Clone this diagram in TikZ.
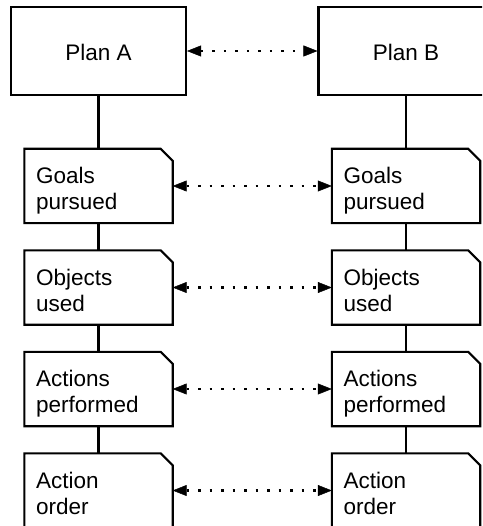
\documentclass[tikz,border=0pt]{standalone}
\usepackage{fontspec}
\setmainfont{Liberation Sans}
\usetikzlibrary{arrows.meta}
\begin{document}
\begin{tikzpicture}[x=1pt,y=-1pt,
  plan/.style={draw, line width=2.1pt, minimum width=175pt, minimum height=88pt,
    inner sep=0pt, font=\fontsize{22.5}{26}\selectfont, text height=20pt, text depth=0pt},
  slot/.style={minimum width=148pt, minimum height=74pt, inner sep=0pt},
  outline/.style={line width=2.1pt, line join=miter},
  caption/.style={anchor=north west, inner sep=0pt, align=left,
    font=\fontsize{22.5}{26}\selectfont},
  link/.style={line width=2.1pt},
  pair/.style={line width=2.5pt, dash pattern=on 2.5pt off 9pt,
    {Triangle[length=14pt,width=11pt,line width=0.5pt]}-{Triangle[length=14pt,width=11pt,line width=0.5pt]}}
]
\useasboundingbox (0,0) rectangle (482,526);
\clip (0,0) rectangle (482,526);

% the two plans
\node[plan] (pa) at (98.5,51) {Plan A};
\node[plan] (pb) at (406,51) {Plan B};

% aspect slots of each plan
\foreach \i/\y in {1/186,2/287.5,3/389,4/490.5} {
  \node[slot] (la\i) at (98.5,\y) {};
  \node[slot] (ra\i) at (406,\y) {};
}
\foreach \n in {la1,la2,la3,la4,ra1,ra2,ra3,ra4} {
  \draw[outline] (\n.south west) -- (\n.north west) -- ([xshift=-12pt]\n.north east)
    -- ([yshift=-12pt]\n.north east) -- (\n.south east) -- cycle;
}

% slot texts
\foreach \s in {l,r} {
  \node[caption] (\s t1) at ([xshift=11.5pt,yshift=-17.5pt]\s a1.north west) {\rule{0pt}{17pt}Goals\\pursued};
  \node[caption] (\s t2) at ([xshift=11.5pt,yshift=-17.5pt]\s a2.north west) {\rule{0pt}{17pt}Objects\\used};
  \node[caption] (\s t3) at ([xshift=11.5pt,yshift=-17.5pt]\s a3.north west) {\rule{0pt}{17pt}Actions\\performed};
  \node[caption] (\s t4) at ([xshift=11.5pt,yshift=-17.5pt]\s a4.north west) {\rule{0pt}{17pt}Action\\order};
}

% vertical chains
\draw[link] (pa) -- (la1) (la1) -- (la2) (la2) -- (la3) (la3) -- (la4);
\draw[link] (pb) -- (ra1) (ra1) -- (ra2) (ra2) -- (ra3) (ra3) -- (ra4);

% correspondences between the plans
\draw[pair] (pa) -- (pb);
\foreach \i in {1,2,3,4} {
  \draw[pair] (la\i) -- (ra\i);
}
\end{tikzpicture}
\end{document}
